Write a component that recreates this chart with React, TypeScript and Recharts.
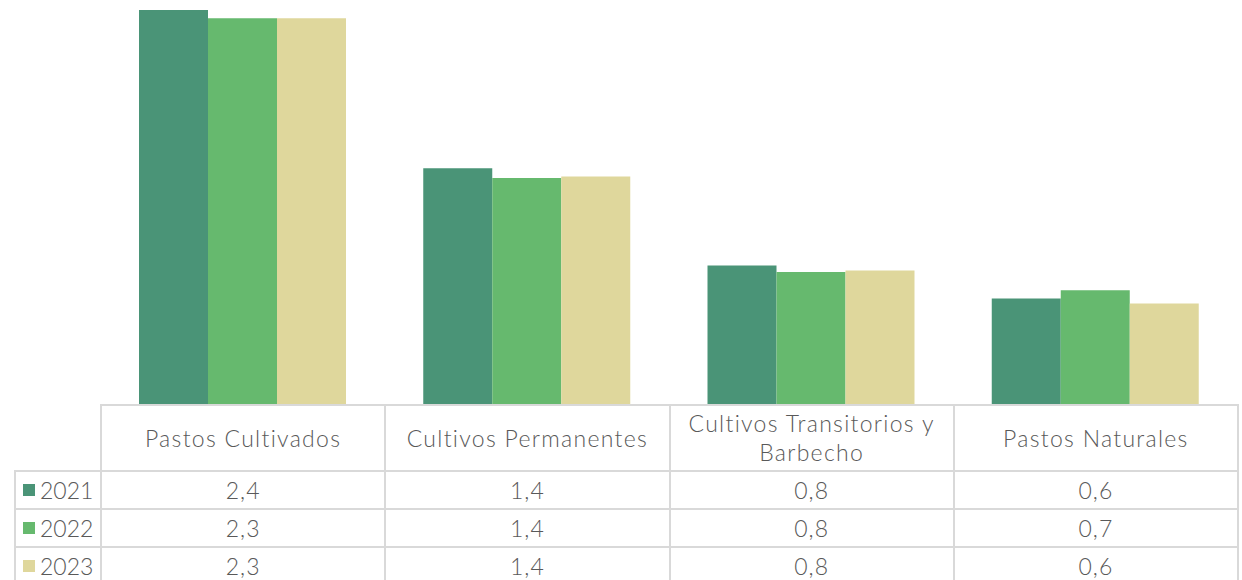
import React from 'react';
import { BarChart, Bar, XAxis, YAxis } from 'recharts';

const categories = ['Pastos Cultivados', 'Cultivos Permanentes', 'Cultivos Transitorios y Barbecho', 'Pastos Naturales'];
const years = ['2021', '2022', '2023'];
const values2021 = [2.39, 1.43, 0.84, 0.64];
const values2022 = [2.34, 1.37, 0.8, 0.69];
const values2023 = [2.34, 1.38, 0.81, 0.61];
const colors = ['#4A9477', '#66B96E', '#DFD79C'];

const series = [values2021, values2022, values2023];
const data = categories.map((name, i) => ({
  name,
  y2021: values2021[i],
  y2022: values2022[i],
  y2023: values2023[i],
}));

const fmt = (v: number) => v.toFixed(1).replace('.', ',');

const W = 1242;
const PLOT_LEFT = 100;
const PLOT_RIGHT = 1237;
const BASE_Y = 404;
const COL_W = (PLOT_RIGHT - PLOT_LEFT) / categories.length;
const LEG_LEFT = 14;
const HEAD_H = 66;
const ROW_H = 38;
const border = '#D9D9D9';
const textColor = '#595959';
const font = 'Lato, "Open Sans", sans-serif';

const cell = (left: number, top: number, width: number, height: number): React.CSSProperties => ({
  position: 'absolute',
  left,
  top,
  width,
  height,
  boxSizing: 'border-box',
  display: 'flex',
  alignItems: 'center',
  justifyContent: 'center',
  textAlign: 'center',
});

export default function App() {
  return (
    <div style={{ position: 'absolute', left: 0, top: 0, width: W, height: 580, overflow: 'hidden', background: '#fff', fontFamily: font, color: textColor }}>
      <BarChart
        width={W}
        height={BASE_Y}
        data={data}
        margin={{ top: 0, right: W - PLOT_RIGHT, bottom: 0, left: PLOT_LEFT }}
        barGap={0}
        barCategoryGap={39}
      >
        <XAxis dataKey="name" hide />
        <YAxis hide domain={[0, 2.45]} />
        {years.map((y, i) => (
          <Bar key={y} dataKey={`y${y}`} fill={colors[i]} isAnimationActive={false} />
        ))}
      </BarChart>

      {/* data table */}
      <div style={{ position: 'absolute', left: 0, top: 0, width: W, height: 580, fontSize: 23, fontWeight: 300 }}>
        {categories.map((c, i) => (
          <div
            key={c}
            style={{
              ...cell(PLOT_LEFT + i * COL_W, BASE_Y, COL_W + 2, HEAD_H + 2),
              border: `2px solid ${border}`,
              lineHeight: '29px',
              letterSpacing: 1.3,
              padding: '0 8px',
            }}
          >
            {c}
          </div>
        ))}
        {years.map((y, r) => {
          const top = BASE_Y + HEAD_H + r * ROW_H;
          return (
            <React.Fragment key={y}>
              <div
                style={{
                  ...cell(LEG_LEFT, top, PLOT_LEFT - LEG_LEFT + 2, ROW_H + 2),
                  border: `2px solid ${border}`,
                  justifyContent: 'flex-start',
                  paddingLeft: 7,
                }}
              >
                <span style={{ display: 'inline-block', width: 12, height: 12, background: colors[r], marginRight: 5 }} />
                {y}
              </div>
              {categories.map((c, i) => (
                <div
                  key={c}
                  style={{
                    ...cell(PLOT_LEFT + i * COL_W, top, COL_W + 2, ROW_H + 2),
                    border: `2px solid ${border}`,
                    letterSpacing: 1,
                  }}
                >
                  {fmt(series[r][i])}
                </div>
              ))}
            </React.Fragment>
          );
        })}
      </div>
    </div>
  );
}
